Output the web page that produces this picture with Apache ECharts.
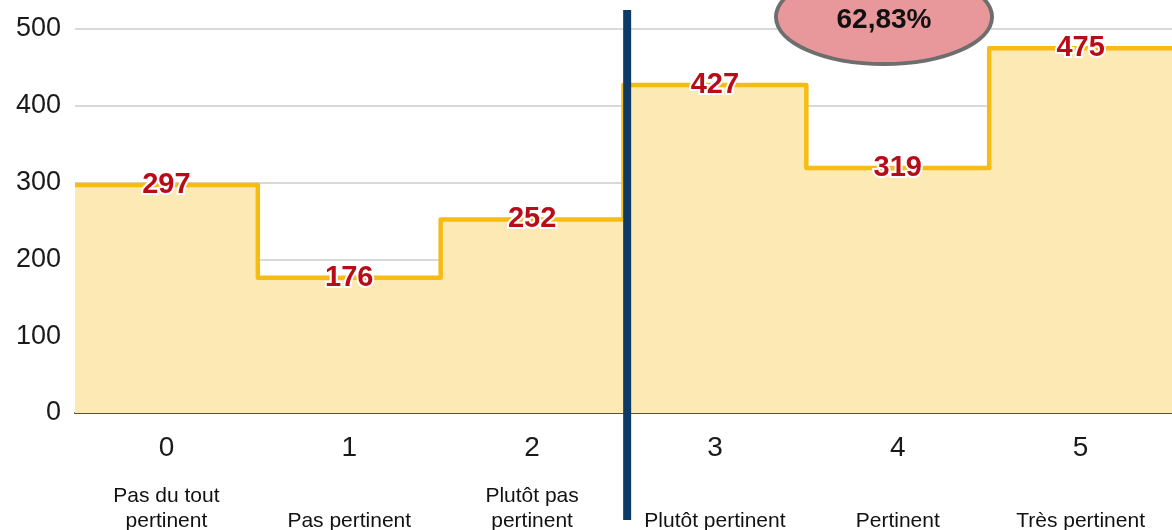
<!DOCTYPE html>
<html>
<head>
<meta charset="utf-8">
<script src="https://cdn.jsdelivr.net/npm/echarts@6/dist/echarts.min.js"></script>
<style>
  html, body { margin: 0; padding: 0; background: #fff; }
  #chart { width: 1172px; height: 530px; }
</style>
</head>
<body>
<div id="chart"></div>
<script>
// data
var categories = ['0', '1', '2', '3', '4', '5']
var descriptions = ['Pas du tout\npertinent', 'Pas pertinent', 'Plutôt pas\npertinent', 'Plutôt pertinent', 'Pertinent', 'Très pertinent']
var values = [297, 176, 252, 427, 319, 475]
var yTicks = [0, 100, 200, 300, 400, 500]
var shareLabel = '62,83%'
var dividerAt = 2.52

var font = 'Liberation Sans, Arial, sans-serif'

// step points sit on the left edge of each band, last one closes the band
var stepData = values.map(function (v, i) { return [i - 0.5, v] })
stepData.push([values.length - 0.5, values[values.length - 1]])

var myChart = echarts.init(document.getElementById('chart'))

var option = {
  backgroundColor: '#fff',
  animation: false,
  grid: { left: 75, right: 0, top: 29, bottom: 117, outerBoundsMode: 'none', containLabel: false },
  xAxis: [{
    type: 'category',
    data: categories,
    boundaryGap: true,
    axisLine: { show: true, lineStyle: { color: '#5e5030', width: 2 } },
    axisTick: { show: false },
    axisLabel: { interval: 0, margin: 21, fontSize: 28, color: '#1a1a1a', fontFamily: font },
    splitLine: { show: false }
  }, {
    type: 'value',
    min: -0.5,
    max: categories.length - 0.5,
    show: false
  }, {
    type: 'category',
    data: descriptions,
    position: 'bottom',
    offset: 0,
    axisLine: { show: false },
    axisTick: { show: false },
    axisLabel: {
      interval: 0, margin: 121, fontSize: 21, lineHeight: 25,
      verticalAlign: 'bottom', color: '#111', fontFamily: font
    },
    splitLine: { show: false }
  }],
  yAxis: {
    type: 'value',
    min: yTicks[0],
    max: yTicks[yTicks.length - 1],
    interval: 100,
    axisLine: { show: false },
    axisTick: { show: false },
    axisLabel: { margin: 14, fontSize: 27, color: '#1a1a1a', fontFamily: font },
    splitLine: { lineStyle: { color: '#cccccc', width: 1.5 } }
  },
  series: [{
    type: 'line',
    xAxisIndex: 1,
    step: 'end',
    symbol: 'none',
    data: stepData,
    lineStyle: { color: '#f6bc14', width: 4.5, join: 'round' },
    areaStyle: { color: '#fde9b3', opacity: 1 },
    z: 2
  }, {
    type: 'scatter',
    xAxisIndex: 0,
    symbolSize: 0,
    data: values,
    itemStyle: { opacity: 1 },
    label: {
      show: true,
      position: 'inside',
      fontSize: 29,
      fontWeight: 'bold',
      color: '#b80d18',
      opacity: 1,
      fontFamily: font,
      textBorderColor: '#fff',
      textBorderWidth: 4
    },
    emphasis: { disabled: true },
    z: 5
  }]
}

myChart.setOption(option, true)

// divider line and the share bubble
var divX = myChart.convertToPixel({ xAxisIndex: 1 }, dividerAt)
myChart.setOption({
  graphic: [{
    type: 'line',
    shape: { x1: divX, y1: 10, x2: divX, y2: 520 },
    style: { stroke: '#0d3a66', lineWidth: 8 },
    z: 100
  }, {
    type: 'ellipse',
    shape: { cx: 884, cy: 17, rx: 108, ry: 47 },
    style: { fill: '#e8989a', stroke: '#6e6e6e', lineWidth: 4 },
    z: 100
  }, {
    type: 'text',
    x: 884,
    y: 20,
    style: {
      text: shareLabel,
      fill: '#111',
      font: 'bold 28px ' + font,
      align: 'center',
      verticalAlign: 'middle'
    },
    z: 101
  }]
})
</script>
</body>
</html>
